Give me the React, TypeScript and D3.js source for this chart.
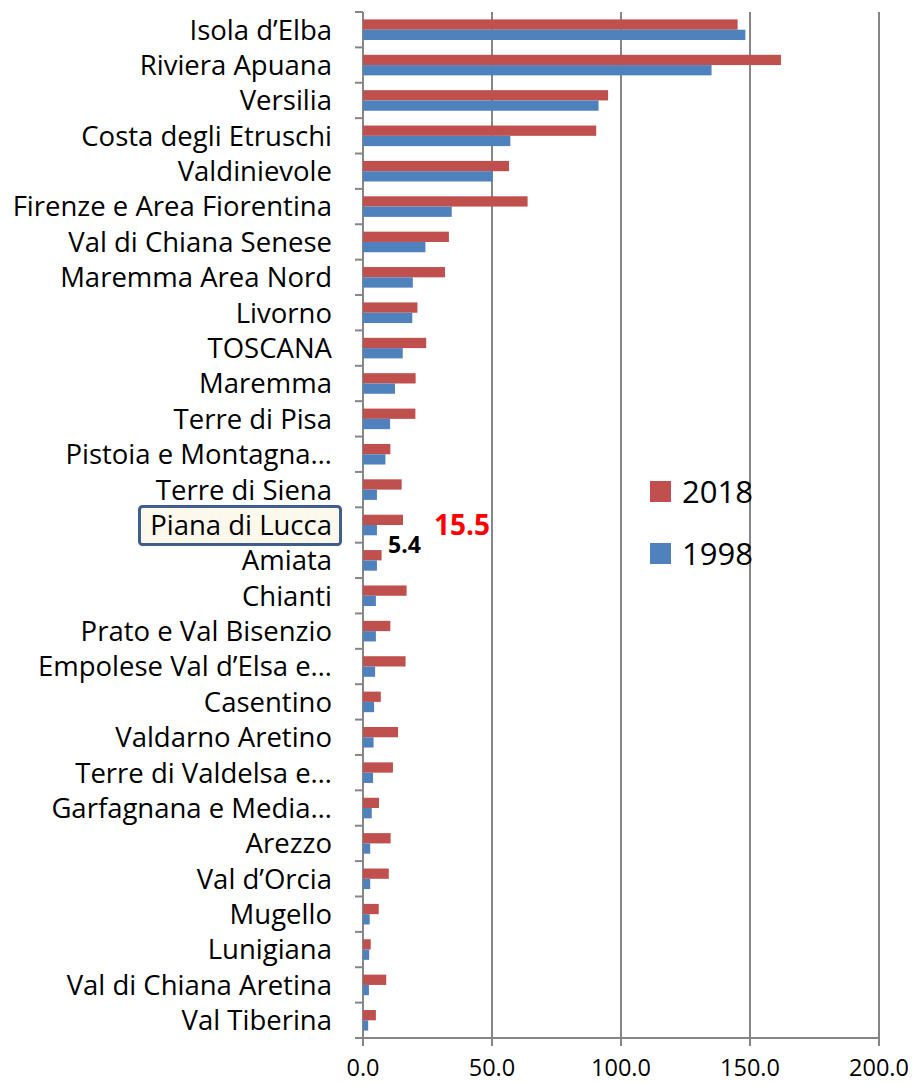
import React from 'react';
import * as d3 from 'd3';

const categories = [
  'Isola d’Elba', 'Riviera Apuana', 'Versilia', 'Costa degli Etruschi', 'Valdinievole',
  'Firenze e Area Fiorentina', 'Val di Chiana Senese', 'Maremma Area Nord', 'Livorno', 'TOSCANA',
  'Maremma', 'Terre di Pisa', 'Pistoia e Montagna…', 'Terre di Siena', 'Piana di Lucca',
  'Amiata', 'Chianti', 'Prato e Val Bisenzio', 'Empolese Val d’Elsa e…', 'Casentino',
  'Valdarno Aretino', 'Terre di Valdelsa e…', 'Garfagnana e Media…', 'Arezzo', 'Val d’Orcia',
  'Mugello', 'Lunigiana', 'Val di Chiana Aretina', 'Val Tiberina',
];

const values2018 = [
  145.2, 162.0, 95.0, 90.4, 56.6,
  63.8, 33.3, 31.8, 21.1, 24.5,
  20.4, 20.3, 10.6, 15.0, 15.5,
  7.2, 16.9, 10.6, 16.5, 6.9,
  13.6, 11.6, 6.2, 10.7, 10.0,
  6.1, 3.0, 9.0, 5.0,
];

const values1998 = [
  148.2, 135.1, 91.3, 57.1, 50.3,
  34.4, 24.2, 19.3, 19.1, 15.4,
  12.4, 10.5, 8.7, 5.4, 5.4,
  5.4, 5.0, 5.0, 4.7, 4.3,
  4.1, 3.9, 3.4, 2.8, 2.8,
  2.6, 2.4, 2.3, 2.0,
];

const seriesNames = ['2018', '1998'];
const seriesColors = ['#c0504d', '#4f81bd'];
const xTicks = [0, 50, 100, 150, 200];

const highlighted = 'Piana di Lucca';

const W = 912;
const H = 1083;
const font = '"Open Sans", "Noto Sans", sans-serif';
const gridColor = '#868686';

export default function App() {
  const x = d3.scaleLinear().domain([0, 200]).range([363, 879]);
  const y = d3.scaleBand<string>().domain(categories).range([12, 1038]);
  const inner = d3.scaleBand<string>().domain(seriesNames).range([0, y.bandwidth()]).paddingOuter(0.72);
  const fmt = d3.format('.1f');

  const series = [values2018, values1998];
  const hiY = y(highlighted)! + y.bandwidth() / 2;
  const hiIdx = categories.indexOf(highlighted);

  return (
    <svg width={W} height={H} style={{ position: 'absolute', left: 0, top: 0, display: 'block', background: '#fff' }}>
      {/* gridlines */}
      {xTicks.map(t => (
        <line key={'g' + t} x1={x(t)} x2={x(t)} y1={12} y2={1038} stroke={gridColor} strokeWidth={2} />
      ))}
      {/* x axis line + ticks */}
      <line x1={355} x2={880} y1={1038} y2={1038} stroke={gridColor} strokeWidth={2} />
      {xTicks.map(t => (
        <g key={'t' + t}>
          <line x1={x(t)} x2={x(t)} y1={1038} y2={1046} stroke={gridColor} strokeWidth={2} />
          <text x={x(t)} y={1076} textAnchor="middle" fontFamily={font} fontSize={23.5} fill="#000">{fmt(t)}</text>
        </g>
      ))}
      {/* y tick marks */}
      {categories.map(c => (
        <line key={'yt' + c} x1={355} x2={363} y1={y(c)!} y2={y(c)!} stroke={gridColor} strokeWidth={2} />
      ))}
      {/* bars */}
      {series.map((vals, s) => (
        <g key={seriesNames[s]}>
          {categories.map((c, i) => (
            <rect key={c} x={x(0)} y={y(c)! + inner(seriesNames[s])!} width={x(vals[i]) - x(0)}
              height={inner.bandwidth()} fill={seriesColors[s]} />
          ))}
        </g>
      ))}
      {/* highlight box */}
      <rect x={139.5} y={hiY - 18.5} width={201} height={38} rx={3} fill="#fdf8ec" stroke="#3e5f8a" strokeWidth={3} />
      {/* category labels */}
      {categories.map(c => (
        <text key={'l' + c} x={332} y={y(c)! + y.bandwidth() / 2} dy="0.36em" textAnchor="end"
          fontFamily={font} fontSize={27.5} fill="#000">{c}</text>
      ))}
      {/* annotations */}
      <text x={434} y={hiY} dy="0.36em" fontFamily={font} fontSize={28} fontWeight="bold" fill="#ff0000">
        {fmt(values2018[hiIdx])}
      </text>
      <text x={388} y={hiY + 20} dy="0.36em" fontFamily={font} fontSize={23} fontWeight="bold" fill="#000">
        {fmt(values1998[hiIdx])}
      </text>
      {/* legend */}
      {seriesNames.map((n, s) => (
        <g key={'lg' + n} transform={`translate(650, ${481 + s * 62})`}>
          <rect x={0} y={0} width={21} height={21} fill={seriesColors[s]} />
          <text x={32} y={11} dy="0.36em" fontFamily={font} fontSize={31} fill="#000">{n}</text>
        </g>
      ))}
    </svg>
  );
}
